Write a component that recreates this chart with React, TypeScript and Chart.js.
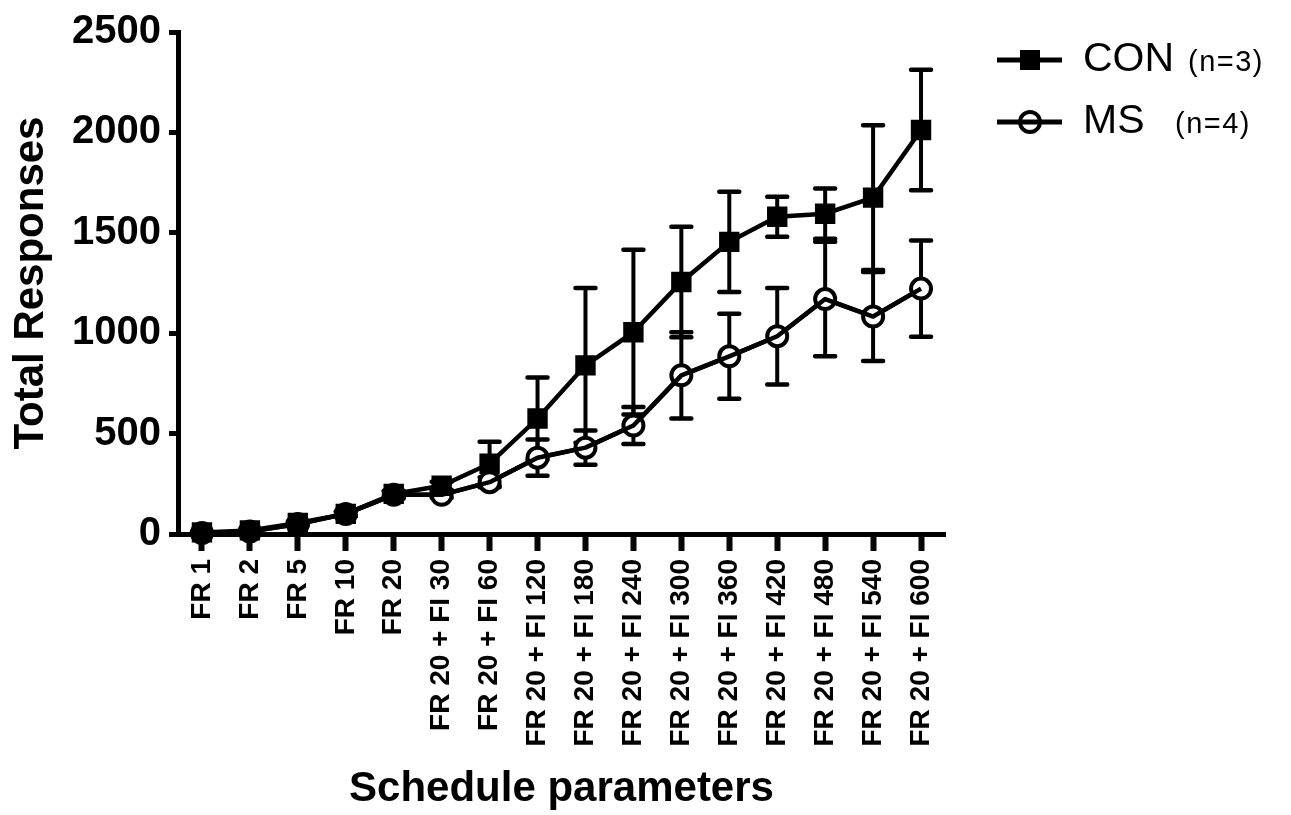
import React, { useEffect, useRef } from 'react';
import { Chart, registerables } from 'chart.js';

Chart.register(...registerables);

const categories = [
  'FR 1', 'FR 2', 'FR 5', 'FR 10', 'FR 20',
  'FR 20 + FI 30', 'FR 20 + FI 60', 'FR 20 + FI 120', 'FR 20 + FI 180',
  'FR 20 + FI 240', 'FR 20 + FI 300', 'FR 20 + FI 360', 'FR 20 + FI 420',
  'FR 20 + FI 480', 'FR 20 + FI 540', 'FR 20 + FI 600',
];
const conMean = [8, 18, 55, 100, 200, 240, 350, 575, 840, 1005, 1255, 1455, 1580, 1595, 1675, 2012];
const conSem = [4, 5, 8, 12, 15, 20, 110, 205, 385, 410, 275, 250, 100, 125, 360, 300];
const msMean = [5, 12, 50, 100, 195, 195, 258, 380, 430, 540, 790, 885, 985, 1170, 1083, 1222];
const msSem = [3, 4, 8, 12, 18, 15, 25, 90, 85, 92, 215, 212, 240, 285, 222, 240];
const yTicks = [0, 500, 1000, 1500, 2000, 2500];
const seriesNames = ['CON', 'MS'];
const seriesN = ['(n=3)', '(n=4)'];

const FONT = '"Liberation Sans", Arial, Helvetica, sans-serif';

const errorBarPlugin = {
  id: 'errorBars',
  beforeDatasetsDraw(chart: any) {
    const ctx = chart.ctx;
    const ys = chart.scales.y;
    chart.data.datasets.forEach((ds: any, i: number) => {
      if (!ds.sem) return;
      const meta = chart.getDatasetMeta(i);
      meta.data.forEach((pt: any, j: number) => {
        const v = ds.data[j];
        const e = ds.sem[j];
        const yTop = ys.getPixelForValue(v + e);
        const yBot = ys.getPixelForValue(v - e);
        ctx.save();
        ctx.strokeStyle = '#000';
        ctx.lineWidth = 4;
        ctx.lineCap = 'butt';
        ctx.beginPath();
        ctx.moveTo(pt.x, yTop);
        ctx.lineTo(pt.x, yBot);
        ctx.stroke();
        ctx.lineCap = 'round';
        ctx.lineWidth = 4.5;
        ctx.beginPath();
        ctx.moveTo(pt.x - 10, yTop);
        ctx.lineTo(pt.x + 10, yTop);
        ctx.moveTo(pt.x - 10, yBot);
        ctx.lineTo(pt.x + 10, yBot);
        ctx.stroke();
        ctx.restore();
      });
    });
  },
  afterDatasetsDraw(chart: any) {
    // connecting line of the open-circle series drawn over its markers
    const ctx = chart.ctx;
    const meta = chart.getDatasetMeta(1);
    ctx.save();
    ctx.strokeStyle = '#000';
    ctx.lineWidth = 4.5;
    ctx.lineJoin = 'round';
    ctx.beginPath();
    meta.data.forEach((pt: any, j: number) => {
      if (j === 0) ctx.moveTo(pt.x, pt.y);
      else ctx.lineTo(pt.x, pt.y);
    });
    ctx.stroke();
    ctx.restore();
  },
};

const legendPlugin = {
  id: 'customLegend',
  afterDraw(chart: any) {
    const ctx = chart.ctx;
    const rows = [60, 122];
    const x0 = 997, x1 = 1062, cx = 1030;
    ctx.save();
    rows.forEach((ry, i) => {
      ctx.strokeStyle = '#000';
      ctx.fillStyle = '#000';
      ctx.lineWidth = 5;
      if (i === 0) {
        ctx.beginPath();
        ctx.moveTo(x0, ry);
        ctx.lineTo(x1, ry);
        ctx.stroke();
        ctx.fillRect(cx - 10, ry - 10, 20, 20);
      } else {
        ctx.beginPath();
        ctx.arc(cx, ry, 10, 0, Math.PI * 2);
        ctx.fillStyle = '#fff';
        ctx.fill();
        ctx.lineWidth = 4;
        ctx.stroke();
        ctx.lineWidth = 5;
        ctx.beginPath();
        ctx.moveTo(x0, ry);
        ctx.lineTo(x1, ry);
        ctx.stroke();
      }
      ctx.fillStyle = '#000';
      ctx.textBaseline = 'middle';
      ctx.textAlign = 'left';
      ctx.font = `41px ${FONT}`;
      (ctx as any).letterSpacing = '0px';
      ctx.fillText(seriesNames[i], 1083, ry);
      ctx.font = `29px ${FONT}`;
      (ctx as any).letterSpacing = '1.5px';
      ctx.fillText(seriesN[i], i === 0 ? 1188 : 1175, ry + 3);
      (ctx as any).letterSpacing = '0px';
    });
    ctx.restore();
  },
};

export default function App() {
  const ref = useRef<HTMLCanvasElement | null>(null);

  useEffect(() => {
    document.body.style.margin = '0';
    const canvas = ref.current;
    if (!canvas) return;
    const chart = new Chart(canvas, {
      type: 'line',
      data: {
        labels: categories,
        datasets: [
          {
            label: seriesNames[0],
            data: conMean,
            sem: conSem,
            borderColor: '#000',
            borderWidth: 4.5,
            backgroundColor: '#000',
            pointStyle: 'rect',
            pointRadius: 13,
            pointBorderWidth: 2,
            pointBackgroundColor: '#000',
            pointBorderColor: '#000',
            tension: 0,
            clip: false,
          } as any,
          {
            label: seriesNames[1],
            data: msMean,
            sem: msSem,
            borderColor: '#000',
            borderWidth: 4.5,
            backgroundColor: '#fff',
            pointStyle: 'circle',
            pointRadius: 10,
            pointBorderWidth: 4,
            pointBackgroundColor: '#fff',
            pointBorderColor: '#000',
            tension: 0,
            clip: false,
          } as any,
        ],
      },
      options: {
        animation: false,
        responsive: false,
        devicePixelRatio: 1,
        events: [],
        layout: { padding: { top: 24, right: 346, left: 0, bottom: 0 } },
        plugins: {
          legend: { display: false },
          tooltip: { enabled: false },
        },
        scales: {
          x: {
            type: 'category',
            offset: true,
            grid: {
              drawOnChartArea: false,
              drawTicks: true,
              tickLength: 17,
              tickWidth: 6,
              color: '#000',
            },
            border: { display: true, width: 5, color: '#000' },
            ticks: {
              color: '#000',
              minRotation: 90,
              maxRotation: 90,
              autoSkip: false,
              padding: 8,
              font: { family: FONT, size: 28, weight: 'bold' },
            },
            title: {
              display: true,
              text: 'Schedule parameters',
              color: '#000',
              padding: { top: 0, bottom: 0 },
              font: { family: FONT, size: 42, weight: 'bold' },
            },
            afterFit: (s: any) => { s.height = 281; },
          },
          y: {
            type: 'linear',
            min: yTicks[0],
            max: yTicks[yTicks.length - 1],
            afterBuildTicks: (s: any) => { s.ticks = yTicks.map((v) => ({ value: v })); },
            grid: {
              drawOnChartArea: false,
              drawTicks: true,
              tickLength: 9,
              tickWidth: 5,
              color: '#000',
            },
            border: { display: true, width: 5, color: '#000' },
            ticks: {
              color: '#000',
              padding: 8,
              callback: (v: any) => String(v),
              font: { family: FONT, size: 40, weight: 'bold' },
            },
            title: {
              display: true,
              text: 'Total Responses',
              color: '#000',
              padding: { top: 6, bottom: 0 },
              font: { family: FONT, size: 42, weight: 'bold' },
            },
            afterFit: (s: any) => { s.width = 178; },
          },
        },
      } as any,
      plugins: [errorBarPlugin, legendPlugin],
    });
    return () => chart.destroy();
  }, []);

  return (
    <div style={{ position: 'absolute', left: 0, top: 0, width: 1291, height: 815, background: '#fff' }}>
      <canvas ref={ref} width={1291} height={815} style={{ display: 'block' }} />
    </div>
  );
}
